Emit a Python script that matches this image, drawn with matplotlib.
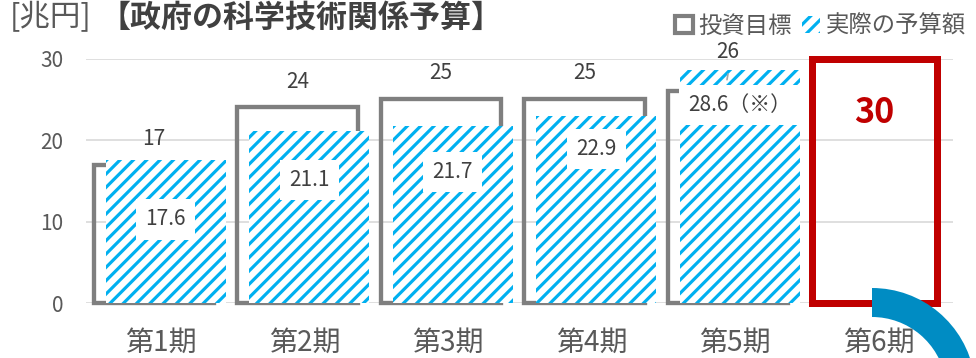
import matplotlib
matplotlib.use('Agg')
import matplotlib.pyplot as plt
from matplotlib.patches import Patch, Wedge
import numpy as np

# ---- data ----
periods = ['第1期', '第2期', '第3期', '第4期', '第5期', '第6期']
target = [17, 24, 25, 25, 26]
actual = [17.6, 21.1, 21.7, 22.9, 28.6]
actual_labels = ['17.6', '21.1', '21.7', '22.9', '28.6（※）']
goal6 = 30
yticks = [0, 10, 20, 30]

# ---- label placement (layout only) ----
target_label_y = [20.1, 27.1, 28.2, 28.2, 30.8]
actual_label_y = [10.3, 15.1, 16.1, 18.9, 24.3]
goal_label_y = 23.4

plt.rcParams['font.family'] = ['Noto Sans CJK JP', 'DejaVu Sans']
plt.rcParams['hatch.linewidth'] = 1.9

DPI = 120
W, H = 976, 358
fig = plt.figure(figsize=(W / DPI, H / DPI), dpi=DPI)
fig.patch.set_facecolor('white')
ax = fig.add_axes([86 / W, (H - 303.3) / H, 867 / W, (303.3 - 58.5) / H])

GRAY = '#7F7F7F'
BLUE = '#00B0F0'
RED = '#C00000'
TXT = '#404040'
TXT2 = '#595959'

x = np.arange(len(periods))
xs = x[:len(target)]

ax.bar(xs - 0.05, target, width=0.84, facecolor='none', edgecolor=GRAY,
       linewidth=2.6, zorder=2, clip_on=False)
ax.bar(xs + 0.032, actual, width=0.836, facecolor='white', edgecolor=BLUE,
       hatch='///', linewidth=0, zorder=3, clip_on=False)
ax.bar(x[5] - 0.03, goal6, width=0.87, facecolor='none', edgecolor=RED,
       linewidth=4.2, zorder=3, clip_on=False)

for i, v in enumerate(target):
    ax.text(xs[i] - 0.05, target_label_y[i], str(v), ha='center', va='center',
            fontsize=12.5, color=TXT, zorder=6)
# leader line for the last target label
ax.annotate('', xy=(xs[4] - 0.06, 27.0), xytext=(xs[4] - 0.045, 28.5),
            arrowprops=dict(arrowstyle='-', color='#A6A6A6', lw=1), zorder=6)

for i, lab in enumerate(actual_labels):
    ax.text(xs[i] + 0.032, actual_label_y[i], lab, ha='center', va='center',
            fontsize=12.5, color=TXT, zorder=6,
            bbox=dict(boxstyle='square,pad=0.45', fc='white', ec='none'))

ax.text(x[5] - 0.03, goal_label_y, str(goal6), ha='center', va='center',
        fontsize=20.5, fontweight='bold', color=RED, zorder=6)

ax.set_xlim(-0.523, 5.519)
ax.set_ylim(0, 30)
ax.set_yticks(yticks)
ax.set_xticks(x)
ax.set_xticklabels(periods)
ax.set_axisbelow(True)
ax.yaxis.grid(True, color='#D9D9D9', linewidth=1.0)
for s in ax.spines.values():
    s.set_visible(False)
ax.tick_params(axis='y', length=0, pad=13.5, labelsize=12.5, labelcolor=TXT2)
ax.tick_params(axis='x', length=0, pad=14.5, labelsize=16.8, labelcolor=TXT2)

# title
fig.text(10 / W, 1 - 18 / H, '[兆円]', ha='left', va='center', fontsize=18.3,
         color=TXT2)
fig.text(100 / W, 1 - 18 / H, '【政府の科学技術関係予算】', ha='left', va='center',
         fontsize=18.6, fontweight='bold', color=TXT)

# legend
handles = [Patch(facecolor='white', edgecolor=GRAY, linewidth=2.5),
           Patch(facecolor='white', edgecolor=BLUE, hatch='///', linewidth=0)]
fig.legend(handles, ['投資目標', '実際の予算額'], loc='center right',
           bbox_to_anchor=(966 / W, 1 - 26 / H), ncol=2, frameon=False,
           fontsize=14, handlelength=0.75, handleheight=0.75, handletextpad=0.25,
           columnspacing=0.45, labelcolor=TXT2, borderpad=0, borderaxespad=0)

# decorative arc
fig.add_artist(Wedge((872 / DPI, -33.6 / DPI), 103.6 / DPI, 10, 90,
                     width=29 / DPI, transform=fig.dpi_scale_trans,
                     facecolor='#008CC3', edgecolor='none', zorder=10))

fig.savefig('out.png', dpi=DPI)
